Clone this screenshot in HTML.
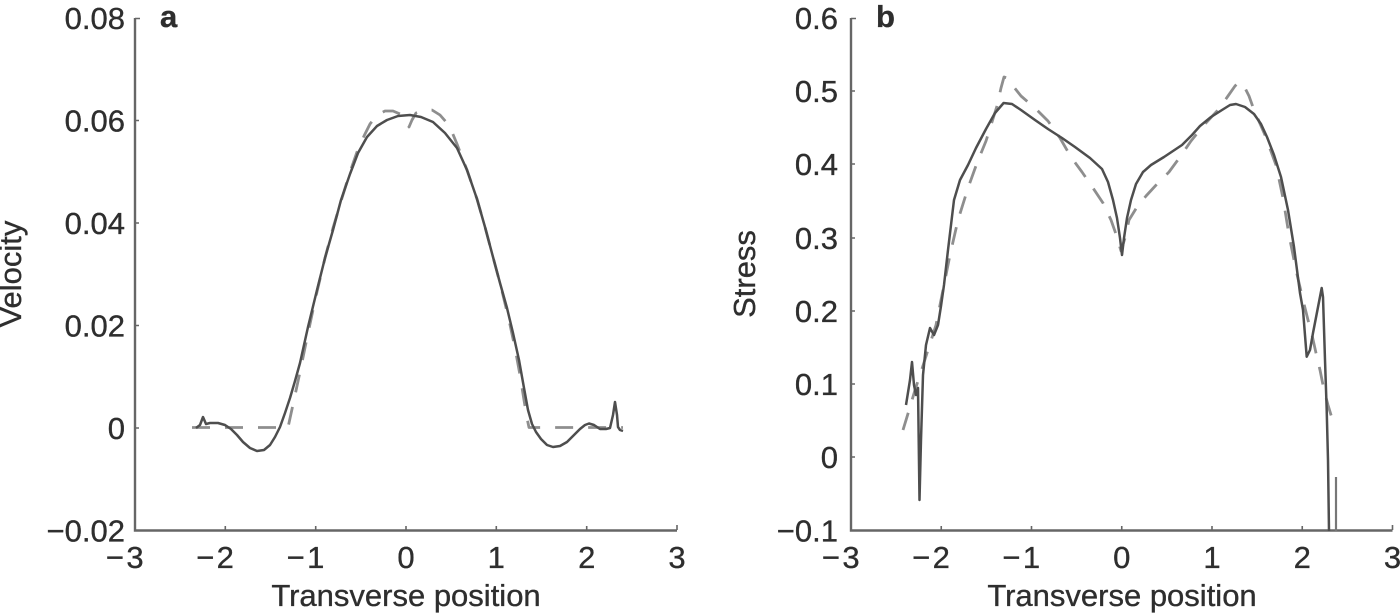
<!DOCTYPE html>
<html>
<head>
<meta charset="utf-8">
<style>
html,body{margin:0;padding:0;background:#fff;}
svg{display:block;}
text{font-family:"Liberation Sans",Arial,sans-serif;fill:#2e2e2e;stroke:#2e2e2e;stroke-width:0.35;}
</style>
</head>
<body>
<svg width="1400" height="615" viewBox="0 0 1400 615" xmlns="http://www.w3.org/2000/svg">
<rect width="1400" height="615" fill="#fff"/>

<!-- ================= Panel a ================= -->
<g stroke="#666" stroke-width="2.4" fill="none">
  <polyline points="135,18 135,530.5 677,530.5"/>
  <path d="M135,18.5h5 M135,120.5h4 M135,223h4 M135,325.5h4 M135,428h4" stroke-width="1.6"/>
  <path d="M225.3,530v-4 M315.7,530v-4 M406,530v-4 M496.3,530v-4 M586.7,530v-4 M677,530v-5" stroke-width="1.6"/>
</g>
<g font-size="31" text-anchor="end">
  <text x="125" y="29">0.08</text>
  <text x="125" y="131.5">0.06</text>
  <text x="125" y="234">0.04</text>
  <text x="125" y="336.5">0.02</text>
  <text x="125" y="439">0</text>
  <text x="125" y="541.5">−0.02</text>
</g>
<g font-size="31" text-anchor="middle">
  <text x="135" y="568">3</text>
  <text x="225.3" y="568">2</text>
  <text x="315.7" y="568">1</text>
  <text x="406" y="568">0</text>
  <text x="496.3" y="568">1</text>
  <text x="586.7" y="568">2</text>
  <text x="677" y="568">3</text>
</g>
<g font-size="31" text-anchor="end">
  <text x="124" y="568">−</text>
  <text x="214.3" y="568">−</text>
  <text x="304.7" y="568">−</text>
</g>
<text x="406" y="606" font-size="31" text-anchor="middle">Transverse position</text>
<text transform="translate(21,274) rotate(-90)" font-size="31" text-anchor="middle">Velocity</text>
<text x="160" y="27" font-size="31" font-weight="bold" fill="#222">a</text>

<!-- dashed series a -->
<polyline fill="none" stroke="#8e8e8e" stroke-width="2.8" stroke-dasharray="18 15" stroke-linejoin="round"
points="192,427.5 288,427.5 294,400 300,372 307,338 316,296 325,258 333,228 342,198 350,172 357,152 364,136 370,124 377,115 385,111 393,111 400,114 406,120 409,127 412,120 416,113 424,110 432,110 440,115 447,123 452,132 457,144 467,170 477,199 485,227 493,257 501,287 509,320 515,348 520,375 524,400 527,418 529,427.5 623,427.5"/>
<!-- solid series a -->
<polyline fill="none" stroke="#4e4e4e" stroke-width="2.5" stroke-linejoin="round"
points="196,428 200,425 203,417 206,424 210,423 218,423 225,425 231,429 237,435 243,442 250,448 257,451 264,450 270,445 275,437 280,427 285,413 290,398 295,381 300,363 308,327 317,290 325,258 333,230 341,200 350,174 358,153 367,137 377,126 387,120 398,116 410,115 421,117 433,122 445,133 457,148 467,170 477,199 485,227 493,257 500,283 507,308 513,333 519,360 524,388 528,410 532,424 536,432 541,439 547,445 553,447 560,446 567,442 574,435 580,429 585,425 589,423.5 594,425 600,429 606,429 610,428 613,415 615,402 617,415 618,427 620,430 623,431"/>

<!-- ================= Panel b ================= -->
<g stroke="#666" stroke-width="2.4" fill="none">
  <polyline points="851,18 851,530.5 1392.5,530.5"/>
  <path d="M851,18.5h5 M851,91h4 M851,164h4 M851,238h4 M851,311h4 M851,384h4 M851,457h4" stroke-width="1.6"/>
  <path d="M941.25,530v-4 M1031.5,530v-4 M1121.75,530v-4 M1212,530v-4 M1302.25,530v-4 M1392.5,530v-5" stroke-width="1.6"/>
</g>
<g font-size="31" text-anchor="end">
  <text x="838" y="29">0.6</text>
  <text x="838" y="102">0.5</text>
  <text x="838" y="175">0.4</text>
  <text x="838" y="249">0.3</text>
  <text x="838" y="322">0.2</text>
  <text x="838" y="395">0.1</text>
  <text x="838" y="468">0</text>
  <text x="838" y="541.5">−0.1</text>
</g>
<g font-size="31" text-anchor="middle">
  <text x="851" y="568">3</text>
  <text x="941.25" y="568">2</text>
  <text x="1031.5" y="568">1</text>
  <text x="1121.75" y="568">0</text>
  <text x="1212" y="568">1</text>
  <text x="1302.25" y="568">2</text>
  <text x="1392.5" y="568">3</text>
</g>
<g font-size="31" text-anchor="end">
  <text x="840" y="568">−</text>
  <text x="930.25" y="568">−</text>
  <text x="1020.5" y="568">−</text>
</g>
<text x="1122" y="606" font-size="31" text-anchor="middle">Transverse position</text>
<text transform="translate(755,274) rotate(-90)" font-size="31" text-anchor="middle">Stress</text>
<text x="876" y="27" font-size="31" font-weight="bold" fill="#222">b</text>

<!-- dashed series b -->
<polyline fill="none" stroke="#8e8e8e" stroke-width="2.8" stroke-dasharray="18 14" stroke-linejoin="round"
points="903,430 910,407 915,390 920,375 928,350 936,325 943,290 950,255 958,220 968,188 977,163 986,141 992,122 997,106 1001,88 1004,77 1007,78 1013,86 1021,96 1035,108 1048,121 1060,138 1071,157 1082,172 1093,188 1103,203 1111,220 1117,237 1121,251 1125,238 1129,220 1137,207 1146,196 1157,184 1169,172 1180,157 1191,141 1204,125 1218,110 1228,96 1235,86 1239,82 1244,86 1249,96 1254,110 1265,135 1276,165 1283,198 1289,235 1296,270 1303,300 1308,320 1312,335 1316,353 1320,370 1324,390 1328,405 1334,425"/>
<!-- solid series b -->
<polyline fill="none" stroke="#4e4e4e" stroke-width="2.5" stroke-linejoin="round"
points="906,405 910,380 912,362 914,385 916,395 918,388 919.5,500 921,440 923,375 926,345 930,328 934,335 938,325 941,306 944,285 948,250 954,200 960,180 968,165 976,148 986,129 995,113 1003.6,103 1012,104 1021,110 1035,120 1048,129 1062,138 1075,147 1090,158 1102,169 1108,182 1113,200 1117,218 1120,238 1122,255 1124,238 1127,218 1131,200 1136,184 1143,172 1151,165 1164,157 1173,151 1182,145 1192,135 1200,126 1211,117 1222,110 1230,105 1236,104 1245,107 1254,114 1261,124 1267,137 1274,155 1281,177 1288,210 1294,247 1300,293 1303,310 1306.7,356.7 1310,350 1313,333 1321.7,288 1323,297 1325,360 1326.7,410 1328,460 1329,531"/>
<line x1="1336" y1="477" x2="1336" y2="531" stroke="#777" stroke-width="2.2"/>
</svg>
</body>
</html>
